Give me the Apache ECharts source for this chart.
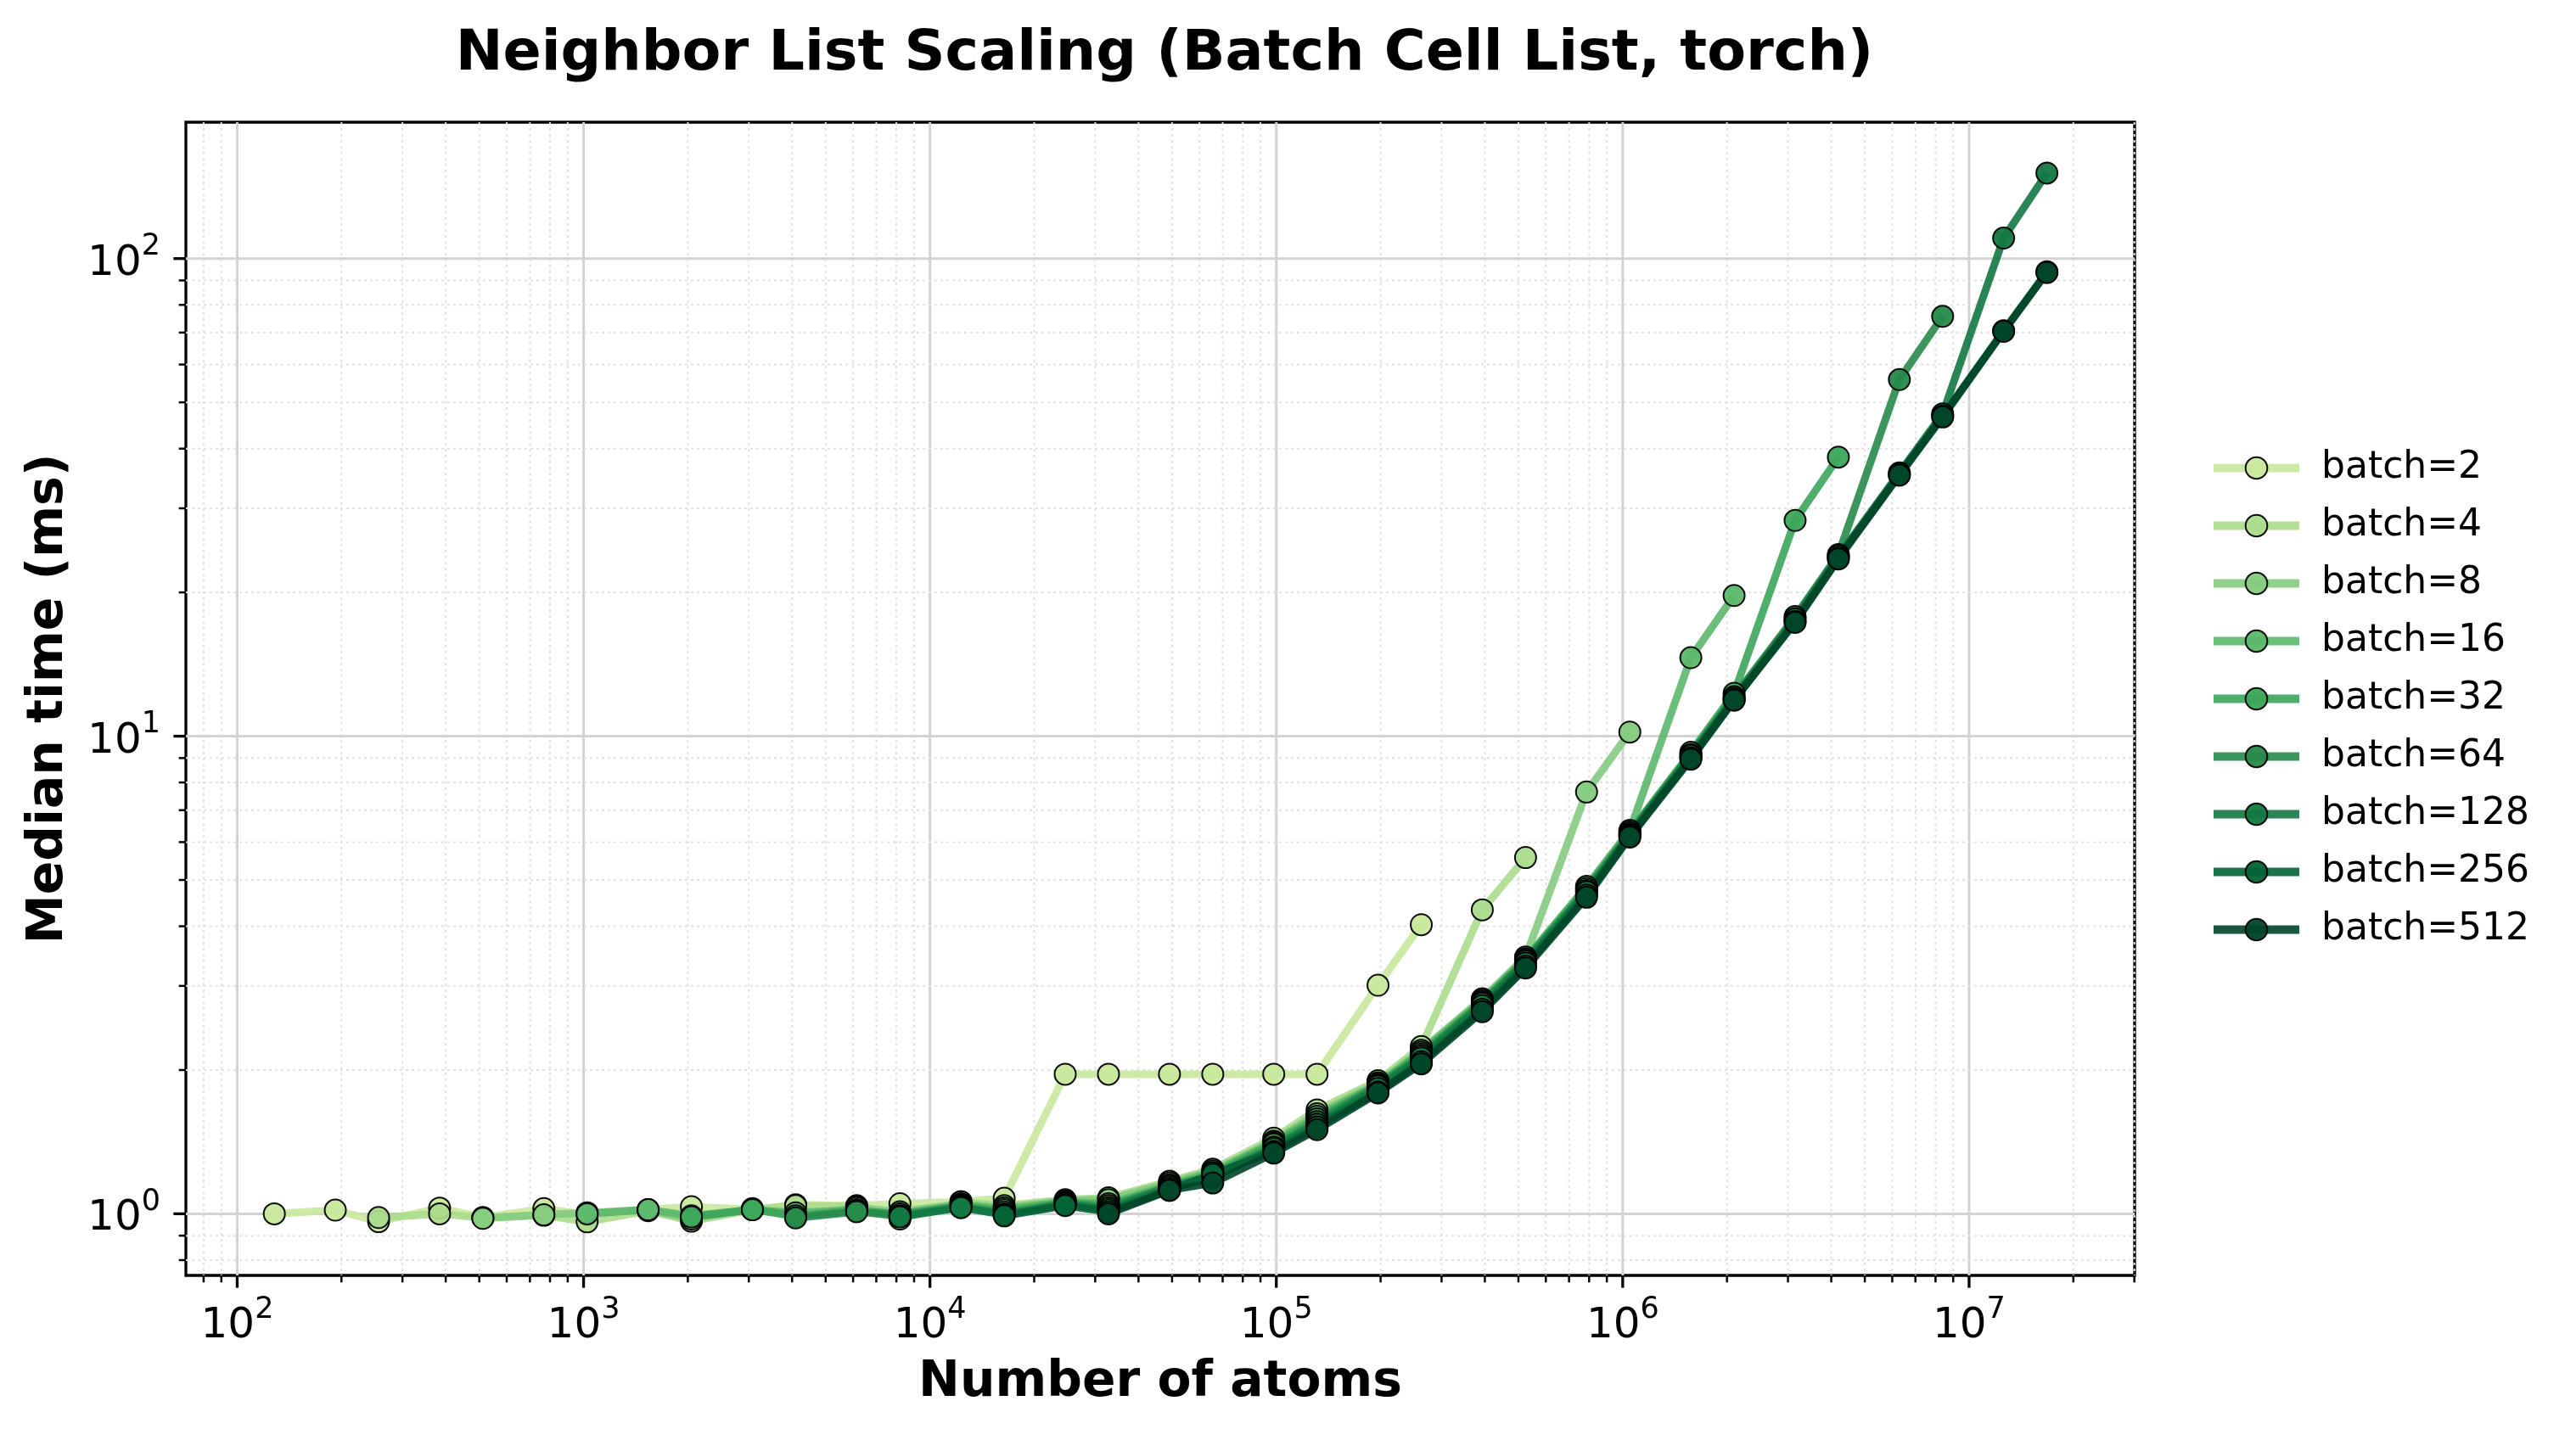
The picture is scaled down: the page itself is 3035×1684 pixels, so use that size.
<!DOCTYPE html>
<html>
<head>
<meta charset="utf-8">
<title>Neighbor List Scaling</title>
<script src="https://cdn.jsdelivr.net/npm/echarts@6.0.0/dist/echarts.min.js"></script>
<style>
    html, body { margin: 0; padding: 0; background: #fff; }
    #main { width: 3035px; height: 1684px; }
</style>
</head>
<body>
<div id="main"></div>
<script>
// total atoms on the x axis (batch size x atoms per system)
var atoms = [128, 192, 256, 384, 512, 768, 1024, 1536, 2048, 3072, 4096, 6144,
    8192, 12288, 16384, 24576, 32768, 49152, 65536, 98304, 131072, 196608,
    262144, 393216, 524288, 786432, 1048576, 1572864, 2097152, 3145728,
    4194304, 6291456, 8388608, 12582912, 16777216];

var batchNames = ['batch=2', 'batch=4', 'batch=8', 'batch=16', 'batch=32',
    'batch=64', 'batch=128', 'batch=256', 'batch=512'];

// index into atoms where each batch starts
var batchStart = [0, 2, 4, 6, 8, 10, 12, 14, 16];

// median times in ms
var b2 = [1.00, 1.018, 0.963, 1.028, 0.982, 1.025, 0.995, 1.02, 1.035, 1.02, 1.045,
    1.04, 1.05, 1.06, 1.078, 1.96, 1.96, 1.96, 1.96, 1.96, 1.96, 3.01, 4.03];
var b4 = [0.982, 1.00, 0.98, 0.993, 0.962, 1.015, 0.965, 1.02, 1.04, 1.035, 0.975,
    1.06, 1.04, 1.07, 1.08, 1.17, 1.24, 1.44, 1.65, 1.90, 2.24, 4.33, 5.57];
var b8 = [0.978, 0.995, 1.005, 1.02, 0.975, 1.025, 0.985, 1.03, 1.01, 1.05, 1.03,
    1.065, 1.07, 1.16, 1.23, 1.42, 1.62, 1.88, 2.20, 2.82, 3.45, 7.64, 10.2];
var b16 = [1.00, 1.02, 0.99, 1.02, 1.005, 1.02, 0.99, 1.045, 1.02, 1.06, 1.05,
    1.15, 1.22, 1.41, 1.60, 1.87, 2.18, 2.80, 3.42, 4.85, 6.35, 14.6, 19.7];
var b32 = [0.985, 1.02, 0.99, 1.015, 1.00, 1.04, 1.01, 1.055, 1.04, 1.14, 1.21,
    1.40, 1.58, 1.86, 2.16, 2.78, 3.40, 4.80, 6.30, 9.25, 12.3, 28.3, 38.4];
var b64 = [0.98, 1.01, 0.99, 1.035, 1.00, 1.05, 1.03, 1.14, 1.20, 1.38, 1.56,
    1.85, 2.14, 2.76, 3.38, 4.75, 6.25, 9.15, 12.1, 17.8, 24.0, 55.8, 75.7];
var b128 = [0.985, 1.03, 0.995, 1.045, 1.02, 1.13, 1.19, 1.37, 1.54, 1.83, 2.12,
    2.73, 3.35, 4.72, 6.22, 9.1, 12.0, 17.6, 23.8, 35.6, 47.3, 110.4, 151];
var b256 = [0.99, 1.04, 1.01, 1.12, 1.21, 1.35, 1.52, 1.80, 2.08, 2.68, 3.30,
    4.65, 6.18, 9.0, 11.9, 17.4, 23.6, 35.3, 46.8, 70.6, 93.8];
var b512 = [1.00, 1.12, 1.16, 1.34, 1.50, 1.79, 2.06, 2.65, 3.27, 4.60, 6.15,
    8.95, 11.9, 17.3, 23.5, 35.2, 46.6, 70.4, 93.5];

var times = [b2, b4, b8, b16, b32, b64, b128, b256, b512];

// YlGn colormap, 0.3 .. 1.0
var colors = ['#c8e89c', '#abdc8c', '#84cb7f', '#5cb86b', '#3ba55a',
    '#26894a', '#127842', '#036336', '#004529'];

var xTickValues = [1e2, 1e3, 1e4, 1e5, 1e6, 1e7];
var yTickValues = [1, 10, 100];

var X_MIN = 71.1, X_MAX = 3.006e7;
var Y_MIN = 0.743, Y_MAX = 193;
var FONT = 'DejaVu Sans';

window.onload = function() {
    var myChart = echarts.init(document.getElementById('main'), null, { renderer: 'canvas' });

    // 10^k as rich text, exponent raised and smaller
    function powLabel(v) {
        var e = Math.log(v) / Math.LN10;
        var r = Math.round(e);
        if (Math.abs(e - r) > 1e-6 || r < 0) {
            return '';
        }
        return '{b|10}{e|' + r + '}';
    }

    var powRich = {
        b: { fontFamily: FONT, fontSize: 50, lineHeight: 62, verticalAlign: 'bottom', color: '#000' },
        e: { fontFamily: FONT, fontSize: 35, lineHeight: 35, verticalAlign: 'top', color: '#000' }
    };

    // minor ticks at 2..9 x 10^k inside the range
    function minors(lo, hi) {
        var out = [];
        for (var k = -1; k <= 8; k++) {
            for (var m = 2; m <= 9; m++) {
                var v = m * Math.pow(10, k);
                if (v >= lo && v <= hi) {
                    out.push(v);
                }
            }
        }
        return out;
    }

    var xTicks = [];
    xTickValues.forEach(function(v) { xTicks.push([v, Y_MIN, 1]); });
    minors(X_MIN, X_MAX).forEach(function(v) { xTicks.push([v, Y_MIN, 0]); });
    var yTicks = [];
    yTickValues.forEach(function(v) { yTicks.push([X_MIN, v, 1]); });
    minors(Y_MIN, Y_MAX).forEach(function(v) { yTicks.push([X_MIN, v, 0]); });

    function gridStyle(major) {
        return major ? { stroke: '#d3d3d3', lineWidth: 3 }
                     : { stroke: '#e2e2e2', lineWidth: 2, lineDash: [3, 4] };
    }

    function tickStyle(major) {
        return { stroke: '#000', lineWidth: major ? 3.3 : 2.5 };
    }

    function renderXTick(params, api) {
        var cs = params.coordSys;
        var px = api.coord([api.value(0), Y_MIN])[0];
        var major = api.value(2) === 1;
        var bottom = cs.y + cs.height;
        return {
            type: 'group',
            children: [
                { type: 'line', shape: { x1: px, y1: cs.y, x2: px, y2: bottom }, style: gridStyle(major) },
                { type: 'line', shape: { x1: px, y1: bottom, x2: px, y2: bottom + (major ? 14.6 : 8.3) }, style: tickStyle(major) }
            ]
        };
    }

    function renderYTick(params, api) {
        var cs = params.coordSys;
        var py = api.coord([X_MIN, api.value(1)])[1];
        var major = api.value(2) === 1;
        return {
            type: 'group',
            children: [
                { type: 'line', shape: { x1: cs.x, y1: py, x2: cs.x + cs.width, y2: py }, style: gridStyle(major) },
                { type: 'line', shape: { x1: cs.x, y1: py, x2: cs.x - (major ? 14.6 : 8.3), y2: py }, style: tickStyle(major) }
            ]
        };
    }

    var series = [
        { type: 'custom', name: 'xgrid', data: xTicks, encode: { x: 0, y: 1 },
          renderItem: renderXTick, z: 1, silent: true },
        { type: 'custom', name: 'ygrid', data: yTicks, encode: { x: 0, y: 1 },
          renderItem: renderYTick, z: 1, silent: true }
    ];

    times.forEach(function(vals, i) {
        var data = [];
        for (var j = 0; j < vals.length; j++) {
            data.push([atoms[batchStart[i] + j], vals[j]]);
        }
        series.push({
            type: 'line',
            name: batchNames[i],
            data: data,
            symbol: 'circle',
            symbolSize: 25,
            z: 2,
            lineStyle: { width: 9, color: colors[i], opacity: 0.9 },
            itemStyle: { color: colors[i], borderColor: '#000', borderWidth: 2, opacity: 0.95 },
            emphasis: { disabled: true }
        });
    });

    var option = {
        animation: false,
        backgroundColor: '#fff',
        title: {
            text: 'Neighbor List Scaling (Batch Cell List, torch)',
            left: 1367,
            top: 26,
            textAlign: 'center',
            textStyle: { fontFamily: FONT, fontSize: 66.7, fontWeight: 'bold', color: '#000' }
        },
        legend: {
            data: batchNames,
            orient: 'vertical',
            left: 2598,
            top: 521,
            itemWidth: 101,
            itemHeight: 32,
            itemGap: 17,
            lineStyle: { width: 10 },
            textStyle: { fontFamily: FONT, fontSize: 44, color: '#000', lineHeight: 51, padding: [0, 0, 0, 21] }
        },
        grid: {
            left: 219, top: 144, width: 2296, height: 1359,
            show: true, borderColor: '#000', borderWidth: 3.3, backgroundColor: 'transparent'
        },
        xAxis: {
            type: 'log',
            logBase: 10,
            min: X_MIN,
            max: X_MAX,
            name: 'Number of atoms',
            nameLocation: 'middle',
            nameGap: 98,
            nameTextStyle: { fontFamily: FONT, fontSize: 58.3, fontWeight: 'bold', color: '#000' },
            axisLine: { show: false },
            axisTick: { show: false },
            splitLine: { show: false },
            axisLabel: {
                formatter: powLabel,
                margin: 23,
                rich: powRich
            }
        },
        yAxis: {
            type: 'log',
            logBase: 10,
            min: Y_MIN,
            max: Y_MAX,
            name: 'Median time (ms)',
            nameLocation: 'middle',
            nameGap: 132,
            nameTextStyle: { fontFamily: FONT, fontSize: 58.3, fontWeight: 'bold', color: '#000' },
            axisLine: { show: false },
            axisTick: { show: false },
            splitLine: { show: false },
            axisLabel: {
                formatter: powLabel,
                margin: 30,
                rich: powRich
            }
        },
        series: series
    };

    myChart.setOption(option);
};
</script>
</body>
</html>
